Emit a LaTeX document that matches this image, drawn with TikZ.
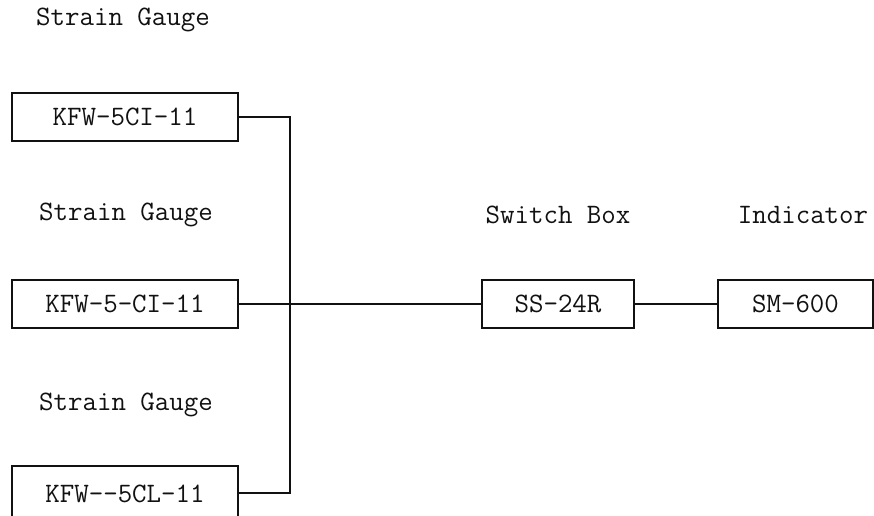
\documentclass[tikz,border=0pt]{standalone}
\usepackage{tikz}
\usetikzlibrary{positioning,calc}
\definecolor{sgink}{HTML}{111111}
\tikzset{
  sgbox/.style={draw=sgink, line width=1.1pt, fill=white, inner sep=0pt,
                font=\ttfamily\fontsize{16}{18}\selectfont, text=sgink,
                minimum height=9.6mm},
  sglabel/.style={font=\ttfamily\fontsize{16}{18}\selectfont, text=sgink},
  sgwire/.style={draw=sgink, line width=1.1pt},
}
\begin{document}
\begin{tikzpicture}[x=1mm,y=1mm]
  \useasboundingbox (0,0) rectangle (174.8,103.2);
  \clip (0,0) rectangle (174.8,103.2);

  \node[sglabel] (lab1) at (24.6,99.2) {Strain Gauge};
  \node[sglabel] (lab2) at (25.2,60.2) {Strain Gauge};
  \node[sglabel] (lab3) at (25.2,22.2) {Strain Gauge};
  \node[sglabel] (labsw) at (111.6,60.2) {Switch Box};
  \node[sglabel] (labind) at (160.6,60.2) {Indicator};

  \node[sgbox,minimum width=45.2mm] (g1) at (25,79.8) {KFW-5CI-11};
  \node[sgbox,minimum width=45.2mm] (g2) at (25,42.4) {KFW-5-CI-11};
  \node[sgbox,minimum width=45.2mm,minimum height=11mm,anchor=north] (g3) at (25,10.2) {KFW--5CL-11};
  \node[sgbox,minimum width=30.4mm] (sw) at (111.6,42.4) {SS-24R};
  \node[sgbox,minimum width=31mm] (ind) at (159.1,42.4) {SM-600};

  \coordinate (bus) at (58,0);
  \draw[sgwire] (g1.east) -- (g1.east -| bus) -- (g3.east -| bus) -- (g3.east);
  \draw[sgwire] (g2) -- (sw);
  \draw[sgwire] (sw) -- (ind);
\end{tikzpicture}
\end{document}
